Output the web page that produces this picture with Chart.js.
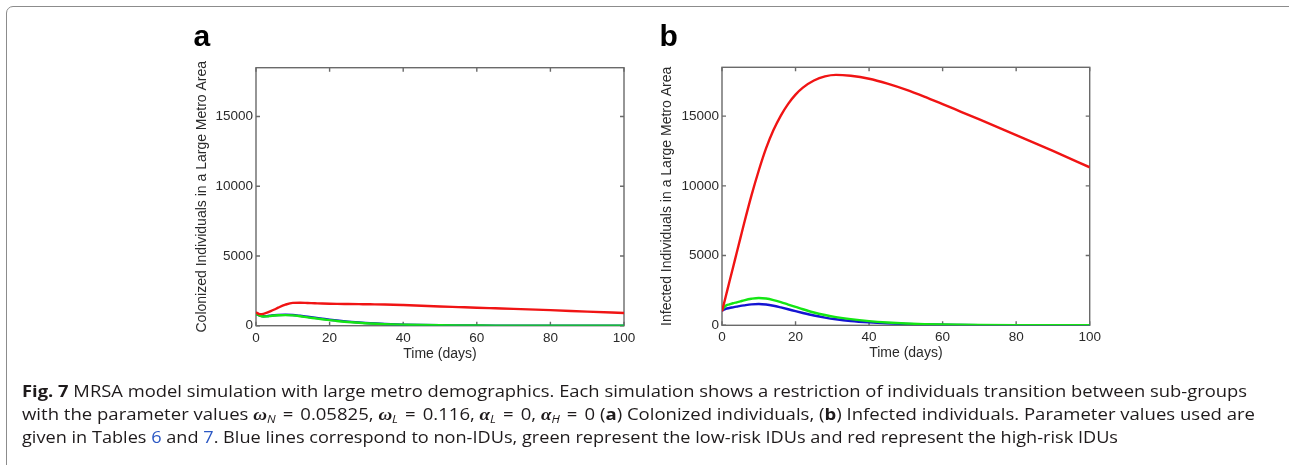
<!DOCTYPE html>
<html><head><meta charset="utf-8">
<script src="https://cdn.jsdelivr.net/npm/chart.js@4.4.0/dist/chart.umd.min.js"></script>
<style>
html,body{margin:0;padding:0;background:#fff;width:1289px;height:465px;overflow:hidden;position:relative;}
canvas{position:absolute;left:0;top:0;}
#frame{position:absolute;left:6px;top:6px;width:1330px;height:530px;border:1.5px solid #8c8c8c;border-radius:7px;box-sizing:border-box;}
.pl{position:absolute;font:bold 30px "Liberation Sans",Arial,sans-serif;line-height:30px;color:#000;}
.cap{position:absolute;left:21.5px;font-family:"Open Sans",sans-serif;font-size:16.6px;line-height:23px;color:#1e1a1b;white-space:nowrap;transform-origin:0 0;}
.m{font-family:"Liberation Serif",serif;font-style:italic;font-weight:bold;font-size:17px}
.eq{padding:0 2px}
.sb{font-style:italic;font-size:11px;position:relative;top:3px}
.lnk{color:#2b58c4}
</style></head><body>
<div id="frame"></div>
<canvas id="ca" width="1289" height="465"></canvas>
<canvas id="cb" width="1289" height="465"></canvas>
<div class="pl" style="left:193.5px;top:21px">a</div>
<div class="pl" style="left:659.5px;top:21px">b</div>
<div class="cap" id="l1" style="top:379px"><b>Fig. 7</b> MRSA model simulation with large metro demographics. Each simulation shows a restriction of individuals transition between sub-groups</div>
<div class="cap" id="l2" style="top:402px">with the parameter values <span class="m">ω</span><span class="sb">N</span> <span class="eq">=</span> 0.05825, <span class="m">ω</span><span class="sb">L</span> <span class="eq">=</span> 0.116, <span class="m">α</span><span class="sb">L</span> <span class="eq">=</span> 0, <span class="m">α</span><span class="sb">H</span> <span class="eq">=</span> 0 (<b>a</b>) Colonized individuals, (<b>b</b>) Infected individuals. Parameter values used are</div>
<div class="cap" id="l3" style="top:425px">given in Tables <span class="lnk">6</span> and <span class="lnk">7</span>. Blue lines correspond to non-IDUs, green represent the low-risk IDUs and red represent the high-risk IDUs</div>
<script>
// ---- data ----
const days = [0,1,2,3,4,5,6,8,10,12,14,16,18,20,22,25,28,31,35,40,45,50,55,60,65,70,80,90,100];
const colonizedNonIDU   = [850,730,680,690,720,750,770,790,770,710,640,570,500,430,370,295,230,175,125,80,50,30,20,12,8,5,3,2,1];
const colonizedLowRisk  = [850,720,660,670,700,730,750,760,740,680,600,530,460,400,340,270,210,160,115,75,45,28,18,12,8,5,3,2,1];
const colonizedHighRisk = [950,830,850,930,1040,1160,1290,1510,1640,1650,1630,1610,1590,1575,1565,1555,1545,1535,1520,1480,1430,1380,1335,1290,1250,1210,1120,1010,910];
const infectedNonIDU    = [1050,1180,1240,1290,1340,1390,1430,1500,1530,1490,1400,1280,1150,1010,880,700,550,430,310,210,140,90,60,38,25,15,7,3,1];
const infectedLowRisk   = [1100,1400,1500,1580,1650,1720,1790,1900,1960,1920,1810,1660,1490,1320,1150,920,740,590,440,300,200,130,85,55,35,22,10,5,2];
const infectedHighRisk  = [1000,2050,3100,4150,5200,6250,7300,9300,11100,12700,14000,15040,15880,16540,17040,17550,17850,17960,17890,17680,17330,16900,16400,15860,15310,14760,13640,12500,11330];
const xTickValues = [0,20,40,60,80,100];
const yTickValues = [0,5000,10000,15000];
const xTitle = 'Time (days)';
const yTitleA = 'Colonized Individuals in a Large Metro Area';
const yTitleB = 'Infected Individuals in a Large Metro Area';

const RED = '#f01414', GREEN = '#14e614', BLUE = '#1414d2';
const tickFont = {family:'"Liberation Sans", Arial, sans-serif', size:13.5};
const titleFont = {family:'"Liberation Sans", Arial, sans-serif', size:14};
const textCol = '#2a2a2a';

const framePlugin = {
  id:'frame',
  beforeDatasetsDraw(chart){
    const {ctx, chartArea:a, scales} = chart;
    ctx.save();
    ctx.strokeStyle = '#6a6a6a';
    ctx.lineWidth = 1.4;
    ctx.strokeRect(a.left, a.top, a.right-a.left, a.bottom-a.top);
    ctx.beginPath();
    const L = 4;
    xTickValues.forEach(v=>{
      const px = scales.x.getPixelForValue(v);
      ctx.moveTo(px, a.bottom); ctx.lineTo(px, a.bottom-L);
      ctx.moveTo(px, a.top); ctx.lineTo(px, a.top+L);
    });
    yTickValues.forEach(v=>{
      const py = scales.y.getPixelForValue(v);
      ctx.moveTo(a.left, py); ctx.lineTo(a.left+L, py);
      ctx.moveTo(a.right, py); ctx.lineTo(a.right-L, py);
    });
    ctx.stroke();
    ctx.restore();
  }
};

function pts(arr){ return arr.map((v,i)=>({x:days[i], y:v})); }

function makeChart(id, blue, green, red, yTitle, area, yW){
  const xH = 36.5;
  return new Chart(document.getElementById(id), {
    type:'line',
    data:{datasets:[
      {data:pts(red), borderColor:RED},
      {data:pts(green), borderColor:GREEN},
      {data:pts(blue), borderColor:BLUE}
    ]},
    options:{
      responsive:false, animation:false, devicePixelRatio:1,
      events:[],
      elements:{line:{borderWidth:2.4, cubicInterpolationMode:'monotone', fill:false}, point:{radius:0}},
      plugins:{legend:{display:false}, tooltip:{enabled:false}},
      layout:{padding:{left:area.left-yW, top:area.top, right:1289-area.right, bottom:465-area.bottom-xH}},
      scales:{
        x:{type:'linear', min:0, max:100,
          afterBuildTicks:s=>{s.ticks = xTickValues.map(v=>({value:v}));},
          afterFit:s=>{s.height = xH;},
          grid:{display:false, drawTicks:false}, border:{display:false},
          ticks:{padding:4, font:tickFont, color:textCol, maxRotation:0, autoSkip:false, callback:v=>String(v)},
          title:{display:true, text:xTitle, font:titleFont, color:textCol, padding:0}
        },
        y:{type:'linear', min:0, max:18500,
          afterBuildTicks:s=>{s.ticks = yTickValues.map(v=>({value:v}));},
          afterFit:s=>{s.width = yW;},
          grid:{display:false, drawTicks:false}, border:{display:false},
          ticks:{padding:3, font:tickFont, color:textCol, autoSkip:false, callback:v=>String(v)},
          title:{display:true, text:yTitle, font:titleFont, color:textCol, padding:0}
        }
      }
    },
    plugins:[framePlugin]
  });
}

makeChart('ca', colonizedNonIDU, colonizedLowRisk, colonizedHighRisk, yTitleA, {left:256, top:67.7, right:624, bottom:325.7}, 62);
makeChart('cb', infectedNonIDU, infectedLowRisk, infectedHighRisk, yTitleB, {left:722, top:67.3, right:1089.7, bottom:325.3}, 63);

// fit caption lines to their widths in the reference
const targets = {l1:1225, l2:1233, l3:1096};
Object.keys(targets).forEach(id=>{
  const el = document.getElementById(id);
  const w = el.getBoundingClientRect().width;
  el.style.transform = 'scaleX(' + (targets[id]/w) + ')';
});
</script>
</body></html>
